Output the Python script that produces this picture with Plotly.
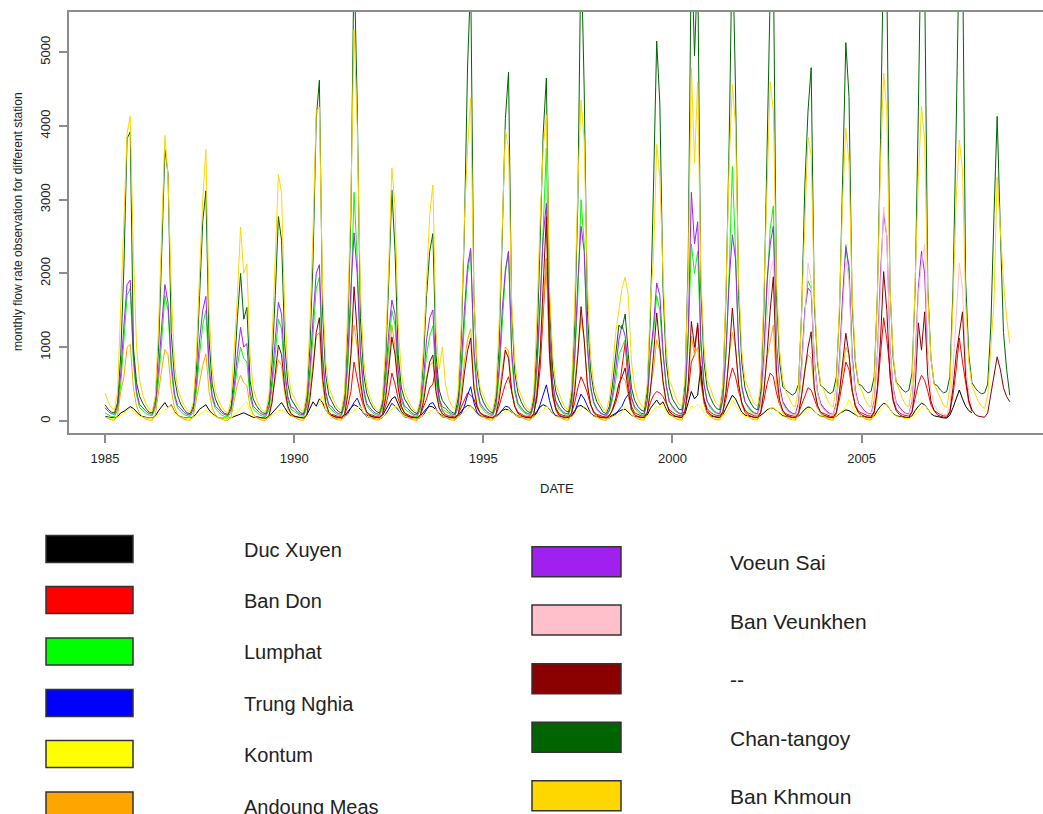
import plotly.graph_objects as go

# Monthly mean flow (m3/s) per station, one row per year (Jan..Dec).
START_DUC_XUYEN = 1985
DUC_XUYEN = [
    60, 50, 40, 40, 60, 110, 130, 160, 195, 170, 120, 80,
    60, 45, 40, 40, 70, 140, 200, 250, 180, 220, 130, 80,
    55, 45, 40, 38, 55, 100, 160, 190, 220, 150, 100, 70,
    45, 40, 35, 35, 45, 60, 80, 100, 110, 90, 70, 50,
    50, 42, 38, 36, 60, 110, 150, 210, 250, 180, 110, 70,
    60, 50, 45, 40, 80, 180, 260, 200, 300, 250, 150, 90,
    70, 55, 45, 42, 70, 130, 180, 220, 200, 160, 110, 80,
    65, 50, 45, 42, 70, 150, 230, 300, 330, 220, 130, 80,
    60, 48, 42, 40, 65, 120, 170, 200, 190, 150, 100, 70,
    60, 48, 42, 40, 70, 130, 180, 210, 200, 160, 100, 70,
    55, 45, 40, 38, 60, 100, 140, 160, 150, 120, 90, 65,
    60, 48, 42, 40, 70, 130, 190, 220, 200, 160, 100, 70,
    60, 48, 42, 40, 75, 140, 200, 210, 180, 150, 100, 70,
    55, 45, 40, 38, 50, 80, 110, 130, 150, 160, 120, 75,
    60, 50, 45, 42, 80, 170, 230, 285, 220, 260, 160, 90,
    70, 55, 50, 48, 100, 250, 400, 300, 350, 750, 250, 110,
    70, 55, 48, 45, 90, 180, 280, 350, 300, 200, 120, 80,
    65, 50, 45, 42, 70, 110, 150, 170, 175, 140, 100, 70,
    60, 48, 42, 40, 65, 110, 160, 190, 180, 130, 90, 65,
    55, 45, 40, 38, 60, 100, 130, 150, 140, 110, 80, 60,
    60, 48, 42, 40, 70, 140, 200, 240, 220, 160, 100, 70,
    60, 48, 42, 40, 70, 140, 200, 240, 220, 160, 100, 70,
    60, 48, 42, 40, 80, 180, 300, 420, 300, 200, 140, 110,
]

START_BAN_DON = 1991
BAN_DON = [
    90, 70, 60, 55, 90, 200, 400, 800, 550, 350, 200, 120,
    90, 70, 60, 55, 90, 200, 380, 650, 500, 300, 180, 110,
    85, 65, 55, 50, 80, 180, 300, 450, 500, 740, 300, 140,
    90, 70, 60, 55, 90, 180, 280, 380, 350, 300, 180, 110,
    85, 65, 55, 50, 80, 200, 350, 500, 600, 400, 200, 120,
    90, 70, 60, 55, 100, 300, 700, 1400, 2200, 960, 400, 180,
    100, 80, 65, 60, 110, 250, 450, 600, 500, 380, 220, 130,
    90, 70, 60, 55, 80, 150, 250, 400, 700, 1060, 500, 200,
    110, 85, 70, 65, 120, 250, 350, 400, 380, 330, 250, 150,
    120, 90, 75, 70, 150, 400, 800, 900, 1330, 600, 300, 170,
    120, 90, 75, 70, 130, 300, 550, 720, 600, 400, 250, 150,
    110, 85, 70, 65, 120, 280, 500, 650, 600, 380, 220, 140,
    100, 80, 65, 60, 110, 220, 350, 450, 420, 300, 180, 120,
    100, 80, 65, 60, 120, 300, 550, 800, 700, 400, 220, 130,
    110, 85, 70, 65, 130, 400, 900, 1400, 1100, 730, 300, 160,
    110, 85, 70, 65, 130, 300, 500, 620, 550, 400, 220, 140,
    110, 85, 70, 65, 130, 350, 700, 1125, 800, 500, 250, 130,
]

START_LUMPHAT = 1985
LUMPHAT = [
    110, 80, 60, 60, 150, 500, 1100, 1700, 1800, 800, 350, 180,
    140, 100, 80, 70, 180, 550, 1100, 1700, 1500, 700, 330, 180,
    130, 90, 70, 60, 120, 400, 900, 1300, 1500, 650, 300, 170,
    120, 80, 60, 55, 120, 380, 750, 1000, 850, 800, 330, 170,
    120, 85, 65, 60, 150, 450, 900, 1380, 1250, 600, 280, 160,
    130, 95, 70, 65, 170, 550, 1200, 1800, 1950, 800, 350, 190,
    150, 105, 80, 70, 200, 700, 1600, 3100, 2200, 900, 400, 210,
    150, 105, 80, 70, 160, 500, 1000, 1500, 1300, 600, 280, 170,
    130, 95, 70, 60, 150, 450, 900, 1150, 1290, 550, 250, 160,
    130, 95, 75, 65, 180, 600, 1300, 2000, 2300, 900, 400, 210,
    150, 105, 80, 70, 180, 600, 1300, 2000, 2300, 850, 380, 210,
    150, 110, 80, 70, 200, 650, 1500, 2600, 3700, 1200, 500, 250,
    160, 115, 85, 75, 220, 800, 1700, 3000, 2400, 1000, 450, 240,
    150, 105, 80, 65, 130, 300, 550, 900, 1000, 1100, 650, 300,
    170, 120, 90, 80, 250, 850, 1200, 1700, 1500, 900, 500, 270,
    180, 130, 100, 90, 300, 1100, 2400, 2000, 2300, 1000, 500, 270,
    180, 130, 100, 90, 280, 900, 2000, 3450, 2300, 950, 450, 260,
    180, 130, 100, 90, 250, 800, 1800, 2600, 2917, 1000, 450, 260,
    170, 120, 90, 80, 220, 700, 1500, 1900, 1800, 800, 380, 230,
    160, 115, 90, 80, 230, 750, 1600, 2390, 2000, 850, 400,
]

START_TRUNG_NGHIA = 1991
TRUNG_NGHIA = [
    50, 40, 35, 32, 50, 100, 180, 250, 310, 200, 100, 60,
    45, 38, 34, 30, 45, 90, 160, 240, 200, 150, 90, 55,
    45, 38, 34, 30, 45, 80, 150, 230, 250, 160, 90, 55,
    45, 38, 34, 30, 50, 100, 200, 350, 465, 250, 120, 65,
    50, 40, 35, 32, 50, 90, 150, 200, 190, 140, 85, 55,
    50, 40, 35, 32, 55, 110, 220, 350, 490, 280, 130, 70,
    55, 42, 36, 33, 60, 120, 250, 365, 300, 200, 110, 65,
    50, 40, 35, 32, 40, 60, 90, 150, 200, 300, 360, 150,
]

START_KONTUM = 1985
KONTUM = [
    50, 40, 35, 32, 50, 80, 110, 140, 170, 130, 90, 60,
    50, 40, 35, 32, 55, 90, 120, 160, 180, 210, 120, 70,
    50, 40, 35, 32, 45, 70, 100, 130, 150, 120, 85, 60,
    45, 38, 33, 30, 45, 80, 120, 180, 220, 260, 130, 70,
    48, 40, 35, 32, 50, 80, 110, 140, 150, 120, 85, 60,
    50, 40, 35, 32, 55, 90, 130, 180, 220, 340, 150, 80,
    55, 42, 36, 33, 50, 80, 110, 140, 170, 200, 110, 65,
    50, 40, 35, 32, 50, 80, 120, 160, 200, 180, 100, 60,
    48, 40, 35, 32, 50, 75, 100, 130, 150, 160, 90, 60,
    48, 40, 35, 32, 55, 85, 120, 170, 200, 150, 90, 60,
    48, 40, 35, 32, 50, 75, 100, 130, 150, 130, 85, 60,
    50, 40, 35, 32, 55, 85, 120, 160, 190, 170, 100, 60,
    50, 40, 35, 32, 55, 90, 130, 170, 200, 160, 100, 60,
    45, 38, 33, 30, 40, 55, 70, 90, 120, 200, 150, 80,
    50, 40, 35, 32, 60, 100, 150, 200, 180, 230, 130, 70,
    55, 42, 36, 33, 70, 120, 200, 180, 220, 200, 110, 65,
    55, 42, 36, 33, 65, 110, 180, 285, 220, 160, 95, 60,
    50, 40, 35, 32, 55, 90, 130, 170, 180, 150, 90, 60,
    48, 40, 35, 32, 50, 80, 120, 160, 180, 140, 85, 58,
    48, 40, 35, 32, 55, 90, 140, 200, 290, 180, 95, 60,
    50, 40, 35, 32, 55, 90, 150, 200, 230, 170, 95, 60,
    50, 40, 35, 32, 55, 90, 140, 190, 215, 160, 95,
]

START_ANDOUNG_MEAS = 1985
ANDOUNG_MEAS = [
    60, 30, 15, 10, 80, 400, 600, 1000, 1040, 450, 200, 100,
    55, 25, 12, 10, 90, 420, 700, 970, 900, 420, 190, 90,
    50, 25, 12, 10, 60, 300, 550, 750, 909, 400, 180, 85,
    45, 22, 10, 8, 60, 280, 500, 620, 520, 480, 200, 90,
    45, 22, 10, 10, 70, 320, 600, 830, 750, 380, 170, 85,
    50, 25, 12, 10, 80, 400, 800, 1150, 1200, 500, 220, 100,
    55, 28, 14, 12, 90, 450, 900, 1300, 1000, 480, 220, 100,
    55, 28, 14, 12, 80, 380, 800, 1300, 1000, 450, 200, 95,
    50, 25, 12, 10, 70, 320, 600, 750, 800, 380, 170, 85,
    50, 25, 12, 10, 80, 400, 800, 1100, 1250, 520, 230, 100,
    55, 28, 14, 12, 80, 380, 750, 1000, 950, 430, 200, 95,
    55, 28, 14, 12, 90, 450, 900, 1500, 2200, 800, 330, 140,
    60, 30, 15, 12, 100, 500, 1000, 1400, 1100, 500, 230, 110,
    55, 28, 14, 10, 50, 180, 300, 500, 600, 550, 350, 150,
    60, 30, 15, 12, 110, 450, 700, 1100, 950, 500, 250, 120,
    65, 32, 16, 14, 130, 500, 1150, 900, 1000, 500, 240, 115,
    65, 32, 16, 14, 120, 450, 900, 1200, 1000, 480, 230, 110,
    65, 32, 16, 14, 110, 420, 850, 1100, 1300, 520, 230, 110,
    60, 30, 15, 12, 100, 380, 700, 900, 850, 420, 200, 100,
    60, 30, 15, 12, 100, 400, 750, 1000, 900, 420, 200, 100,
    60, 30, 15, 12, 90, 350,
]

START_VOEUN_SAI = 1985
VOEUN_SAI = [
    180, 130, 100, 90, 200, 650, 1300, 1850, 1910, 900, 400, 220,
    180, 130, 100, 90, 220, 700, 1300, 1850, 1600, 800, 380, 210,
    170, 120, 90, 80, 160, 500, 1100, 1500, 1690, 750, 350, 200,
    160, 110, 85, 75, 160, 480, 900, 1270, 1000, 1050, 400, 200,
    160, 115, 85, 80, 190, 560, 1100, 1610, 1450, 700, 330, 190,
    170, 120, 90, 85, 210, 700, 1400, 2000, 2120, 900, 400, 220,
    190, 130, 100, 90, 240, 850, 1800, 2550, 2000, 950, 450, 240,
    180, 130, 100, 90, 200, 600, 1200, 1640, 1450, 700, 330, 200,
    170, 120, 90, 80, 190, 550, 1100, 1400, 1506, 650, 300, 190,
    170, 125, 95, 85, 220, 750, 1500, 2100, 2340, 1000, 450, 240,
    180, 130, 100, 90, 220, 700, 1500, 2050, 2300, 950, 430, 240,
    180, 130, 100, 90, 230, 750, 1600, 2500, 2950, 1200, 520, 270,
    190, 135, 105, 95, 260, 900, 1900, 2640, 2300, 1050, 480, 260,
    170, 120, 90, 80, 150, 350, 700, 1100, 1300, 1150, 700, 320,
    190, 140, 105, 95, 280, 900, 1300, 1870, 1700, 950, 480, 260,
    200, 145, 110, 100, 320, 1200, 3100, 2400, 2700, 1100, 500, 270,
    200, 145, 110, 100, 300, 950, 1900, 2524, 2200, 1000, 470, 260,
    200, 145, 110, 100, 280, 900, 1900, 2400, 2640, 1050, 470, 260,
    190, 135, 105, 95, 250, 800, 1500, 1800, 1750, 850, 400, 240,
    180, 130, 100, 90, 250, 850, 1700, 2360, 2100, 900, 420, 240,
    190, 135, 105, 95, 270, 900, 2000, 2820, 2500, 1000, 450, 250,
    190, 135, 105, 95, 260, 850, 1800, 2300, 2000, 900,
]

START_BAN_VEUNKHEN = 2002
BAN_VEUNKHEN = [
    150, 110, 90, 80, 200, 700, 1400, 2000, 2200, 900, 400, 220,
    150, 110, 90, 80, 200, 700, 1400, 2140, 1900, 800, 380, 210,
    150, 110, 90, 80, 220, 750, 1500, 2200, 1900, 800, 380, 210,
    160, 115, 95, 85, 240, 850, 1800, 2900, 2500, 950, 420, 230,
    160, 115, 95, 85, 240, 800, 1700, 2140, 2400, 900, 400, 220,
    150, 110, 90, 80, 220, 700, 1400, 2140, 1800, 800, 380, 210,
]

START_UNNAMED = 1989
UNNAMED = [
    60, 45, 40, 38, 70, 250, 600, 1030, 900, 450, 200, 100,
    70, 50, 45, 40, 80, 300, 700, 1200, 1400, 600, 250, 120,
    75, 55, 48, 42, 90, 350, 900, 1820, 1200, 550, 250, 120,
    75, 55, 48, 42, 85, 300, 700, 1140, 900, 450, 200, 110,
    70, 52, 45, 40, 80, 250, 550, 800, 895, 400, 180, 100,
    70, 52, 45, 40, 85, 280, 650, 950, 1125, 450, 200, 110,
    75, 55, 48, 42, 85, 280, 600, 960, 850, 400, 190, 105,
    75, 55, 48, 42, 95, 350, 900, 1800, 2770, 900, 350, 160,
    80, 60, 50, 45, 100, 400, 900, 1550, 1100, 500, 230, 120,
    75, 55, 48, 42, 70, 150, 300, 500, 600, 720, 400, 160,
    85, 62, 52, 46, 110, 400, 900, 1465, 1000, 550, 260, 130,
    90, 65, 55, 50, 130, 500, 1350, 1000, 1300, 600, 280, 140,
    90, 65, 55, 50, 120, 400, 900, 1530, 1000, 500, 240, 130,
    85, 62, 52, 46, 110, 400, 900, 1500, 1955, 650, 280, 140,
    80, 60, 50, 45, 100, 350, 700, 1000, 1210, 450, 210, 120,
    80, 60, 50, 45, 110, 400, 800, 1190, 900, 420, 200, 115,
    85, 62, 52, 46, 120, 450, 1100, 2025, 1500, 600, 270, 140,
    85, 62, 52, 46, 120, 450, 1330, 960, 1480, 600, 270, 140,
    85, 62, 52, 46, 120, 450, 900, 1200, 1480, 600, 280, 150,
    90, 65, 55, 50, 110, 350, 600, 870, 700, 450, 330, 260,
]

START_CHAN_TANGOY = 1985
CHAN_TANGOY = [
    220, 160, 120, 110, 250, 900, 2100, 3830, 3920, 1000, 520, 330,
    240, 170, 120, 110, 300, 1000, 2300, 3680, 3350, 1200, 600, 350,
    230, 160, 110, 100, 200, 700, 1700, 2700, 3120, 1100, 500, 300,
    200, 140, 100, 90, 200, 650, 1400, 2000, 1380, 1540, 550, 300,
    210, 150, 110, 100, 260, 800, 1700, 2770, 2450, 1050, 500, 300,
    230, 160, 110, 100, 300, 1000, 2200, 4100, 4620, 1500, 620, 350,
    260, 180, 130, 110, 320, 1200, 2800, 6300, 4300, 1400, 650, 380,
    260, 180, 130, 110, 250, 800, 1900, 3130, 2300, 900, 450, 300,
    230, 160, 120, 100, 250, 800, 1700, 2300, 2540, 900, 420, 280,
    220, 160, 120, 100, 300, 1100, 2600, 4800, 6000, 1700, 700, 380,
    260, 180, 130, 110, 300, 1000, 2500, 4100, 4730, 1500, 650, 380,
    260, 180, 130, 110, 300, 1000, 2400, 3900, 4650, 1600, 700, 400,
    280, 190, 140, 120, 350, 1300, 3000, 6500, 4500, 1500, 700, 400,
    260, 180, 120, 100, 200, 500, 900, 1300, 1250, 1450, 900, 450,
    280, 200, 150, 130, 400, 1400, 3200, 5150, 4300, 1800, 800, 450,
    300, 220, 160, 150, 500, 2200, 6500, 4950, 6200, 1800, 800, 450,
    320, 230, 170, 150, 450, 1700, 3800, 6600, 4500, 1700, 800, 450,
    320, 230, 170, 150, 400, 1500, 3500, 5800, 6300, 1700, 800, 460,
    420, 380, 350, 380, 500, 1500, 3200, 4200, 4790, 1600, 800, 480,
    450, 400, 370, 400, 600, 1500, 3300, 5130, 4400, 1600, 800, 500,
    480, 420, 380, 400, 600, 1700, 3800, 6500, 6000, 1800, 850, 520,
    480, 420, 390, 420, 650, 1800, 4200, 7000, 6000, 1800, 850, 500,
    480, 420, 380, 400, 600, 1800, 4000, 6500, 6500, 1900, 900, 520,
    450, 400, 370, 380, 500, 1300, 2800, 4130, 2600, 1200, 700, 350,
]

START_BAN_KHMOUN = 1985
BAN_KHMOUN = [
    380, 260, 180, 150, 400, 1500, 2800, 3900, 4130, 2300, 1000, 550,
    350, 230, 160, 130, 350, 1300, 2600, 3870, 3300, 1800, 800, 450,
    320, 220, 150, 120, 250, 900, 2000, 3000, 3680, 1500, 700, 400,
    280, 190, 130, 110, 300, 1000, 1700, 2630, 2000, 2130, 900, 450,
    300, 200, 140, 120, 350, 1100, 2200, 3340, 3100, 1500, 700, 400,
    320, 220, 150, 130, 400, 1300, 2600, 4200, 4250, 1800, 800, 450,
    350, 240, 170, 140, 400, 1500, 3000, 5300, 4000, 1800, 850, 480,
    330, 230, 160, 130, 300, 1000, 2100, 3430, 2900, 1300, 650, 400,
    300, 210, 150, 120, 300, 1000, 1900, 2800, 3200, 1200, 700, 1000,
    500, 300, 200, 170, 400, 1300, 2700, 3700, 4380, 1700, 800, 450,
    350, 240, 170, 140, 400, 1300, 2600, 3950, 3700, 1600, 800, 450,
    350, 240, 170, 140, 400, 1400, 2700, 3700, 4150, 1800, 900, 500,
    380, 260, 180, 150, 450, 1600, 3200, 4350, 3800, 1900, 900, 500,
    350, 240, 170, 140, 300, 700, 1200, 1500, 1800, 1950, 1700, 800,
    450, 300, 220, 180, 500, 1600, 2230, 3750, 3300, 2000, 1000, 550,
    450, 320, 230, 200, 600, 2000, 4790, 3500, 4600, 2000, 1000, 550,
    450, 320, 230, 200, 500, 1800, 3500, 4560, 4000, 1900, 950, 550,
    450, 320, 230, 200, 500, 1700, 3300, 4600, 4200, 1900, 950, 550,
    400, 300, 220, 190, 450, 1500, 2800, 3850, 3600, 1700, 850, 500,
    420, 300, 220, 190, 500, 1600, 3000, 3970, 3500, 1700, 850, 500,
    420, 300, 220, 190, 500, 1700, 3500, 4715, 4200, 1800, 900, 520,
    420, 300, 220, 190, 500, 1800, 3300, 4265, 3800, 1700, 850, 500,
    400, 290, 210, 180, 450, 1600, 3000, 3810, 3400, 1600, 800, 480,
    380, 270, 200, 170, 350, 1000, 1620, 3310, 2600, 1900, 1400, 1050,
]

STATIONS = ["Duc Xuyen", "Ban Don", "Lumphat", "Trung Nghia", "Kontum",
            "Andoung Meas", "Voeun Sai", "Ban Veunkhen", "--",
            "Chan-tangoy", "Ban Khmoun"]
COLORS = ["#000000", "#FF0000", "#00FF00", "#0000FF", "#FFFF00",
          "#FFA500", "#A020F0", "#FFC0CB", "#8B0000", "#006400", "#FFD700"]
SERIES = [
    (DUC_XUYEN, START_DUC_XUYEN), (BAN_DON, START_BAN_DON),
    (LUMPHAT, START_LUMPHAT), (TRUNG_NGHIA, START_TRUNG_NGHIA),
    (KONTUM, START_KONTUM), (ANDOUNG_MEAS, START_ANDOUNG_MEAS),
    (VOEUN_SAI, START_VOEUN_SAI), (BAN_VEUNKHEN, START_BAN_VEUNKHEN),
    (UNNAMED, START_UNNAMED), (CHAN_TANGOY, START_CHAN_TANGOY),
    (BAN_KHMOUN, START_BAN_KHMOUN),
]
YEAR_TICKS = [1985, 1990, 1995, 2000, 2005]
FLOW_TICKS = [0, 1000, 2000, 3000, 4000, 5000]

fig = go.Figure()
for name, color, (values, start) in zip(STATIONS, COLORS, SERIES):
    t = [start + i / 12 for i in range(len(values))]
    fig.add_trace(go.Scatter(x=t, y=values, mode="lines", name=name,
                             line=dict(color=color, width=1),
                             showlegend=False, hoverinfo="skip"))

# plot box geometry in pixels (figure is 1043 x 814)
L, T, B, R = 69, 12, 433, 1043
W, H = R - L, B - T


def px(xp):
    return (xp - L) / W


def py(yp):
    return (B - yp) / H


AXIS = "#8c8c8c"
TXT = "#222222"
FONT = "Liberation Sans, Arial, sans-serif"

fig.update_layout(
    width=1043, height=814,
    margin=dict(l=L, r=1043 - R, t=T, b=814 - B, pad=0),
    paper_bgcolor="white", plot_bgcolor="white",
    font=dict(family=FONT, color=TXT),
    xaxis=dict(range=[1984.048, 2009.795], tickvals=YEAR_TICKS,
               ticks="outside", ticklen=8, tickwidth=1.5, tickcolor=AXIS,
               showline=True, linecolor=AXIS, linewidth=2, mirror=True,
               showgrid=False, zeroline=False, ticklabelstandoff=4,
               tickfont=dict(size=13, color=TXT)),
    yaxis=dict(range=[-163, 5545], tickvals=FLOW_TICKS,
               ticks="outside", ticklen=8, tickwidth=1.5, tickcolor=AXIS,
               showline=True, linecolor=AXIS, linewidth=2, mirror=False,
               showgrid=False, zeroline=False, tickangle=-90,
               ticklabelstandoff=4,
               tickfont=dict(size=13, color=TXT)),
)

annotations = [
    dict(text="DATE", x=px(557), y=py(488), xref="paper", yref="paper",
         showarrow=False, xanchor="center", yanchor="middle",
         font=dict(size=13, color=TXT)),
    dict(text="monthly flow rate observation for different station",
         x=px(18), y=py(222), xref="paper", yref="paper", textangle=-90,
         showarrow=False, xanchor="center", yanchor="middle",
         font=dict(size=12, color=TXT)),
]
shapes = []

# legend drawn as two columns of colour swatches with labels
left_rows = [549, 600, 651.5, 703, 754, 805.5]
right_rows = [561.7, 620, 678.8, 737.3, 795.7]
for i, yc in enumerate(left_rows):
    shapes.append(dict(type="rect", xref="paper", yref="paper",
                       x0=px(46), x1=px(133), y0=py(yc - 13.5), y1=py(yc + 13.5),
                       fillcolor=COLORS[i], line=dict(color="#333333", width=1.5)))
    annotations.append(dict(text=STATIONS[i], x=px(242), y=py(yc + 1),
                            xref="paper", yref="paper", showarrow=False,
                            xanchor="left", yanchor="middle",
                            font=dict(size=20, color=TXT)))
for j, yc in enumerate(right_rows):
    k = j + len(left_rows)
    shapes.append(dict(type="rect", xref="paper", yref="paper",
                       x0=px(532), x1=px(621), y0=py(yc - 15), y1=py(yc + 15),
                       fillcolor=COLORS[k], line=dict(color="#333333", width=1.5)))
    annotations.append(dict(text=STATIONS[k], x=px(728), y=py(yc + 1),
                            xref="paper", yref="paper", showarrow=False,
                            xanchor="left", yanchor="middle",
                            font=dict(size=21, color=TXT)))

fig.update_layout(annotations=annotations, shapes=shapes)
fig.write_html("out.html")
